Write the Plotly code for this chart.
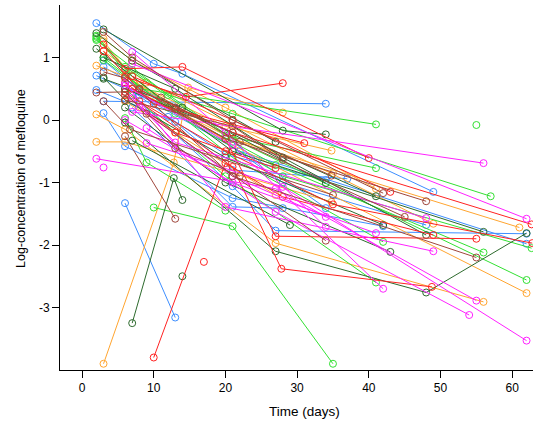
import plotly.graph_objects as go

# ---------------- data (time in days, log-concentration) ----------------
blue_times = [[2, 10, 14, 49], [3, 34], [2, 8, 22, 62], [2, 13, 21, 37], [3, 6, 21, 42],
              [6, 13], [7, 21, 27, 62], [3, 10, 21, 34], [6, 12, 20, 34], [3, 13, 28, 48],
              [7, 21, 28]]
blue_values = [[1.55, 0.9, 0.74, -1.15], [0.3, 0.26], [0.71, 0.4, -0.5, -1.98],
               [0.48, -0.03, -0.8, -0.94], [0.11, -0.42, -1.25, -1.7], [-1.33, -3.16],
               [0.4, -1.06, -1.77, -1.82], [0.95, 0.3, -0.35, -1.41], [0.55, 0.05, -0.55, -0.96],
               [0.85, 0.2, -1.0, -1.68], [0.2, -1.39, -1.41]]

orange_times = [[3, 12.8, 14.8, 28], [3, 8, 20, 34.8], [2, 6, 21, 61], [2, 6, 27, 56],
                [2, 6, 34.8], [3, 9, 49], [6, 21, 62], [3, 7, 20, 41], [6, 13, 27], [7, 21, 35]]
orange_values = [[-3.9, -0.68, 0.52, 0.12], [1.26, 0.56, -0.1, -0.49], [0.87, 0.7, -0.3, -1.72],
                 [0.09, -0.15, -1.97, -2.91], [-0.35, -0.35, -1.31], [1.1, 0.6, -1.66],
                 [0.7, -0.4, -2.77], [1.3, 0.95, 0.2, -1.1], [0.3, -0.2, -1.2], [0.5, -0.3, -0.85]]

green_times = [[2, 8, 41], [2, 6, 20, 41], [2, 12, 21, 57], [3, 12, 27, 56], [10, 21, 35],
               [55], [6, 9, 20], [2, 7, 21, 42], [3, 13, 28, 62.7], [6, 20, 41], [7, 21, 62]]
green_values = [[1.33, 0.5, -0.07], [1.3, 0.85, -0.25, -0.77], [1.28, 0.4, 0.1, -1.22],
                [0.96, 0.2, -0.72, -2.12], [-1.4, -1.7, -3.9], [-0.08], [0.03, -0.68, -1.45],
                [1.35, 0.7, -0.6, -1.95], [1.0, 0.1, -0.9, -2.05], [0.5, -0.9, -2.6],
                [0.8, -0.3, -2.56]]

darkgreen_times = [[3, 28, 34], [2, 7, 27], [2, 13, 21, 56], [3, 6, 20, 42], [3, 14, 34],
                   [7, 12.8, 14], [14], [6, 27, 48, 62], [7, 29], [6, 21, 41],
                   [3, 13, 28, 48], [6, 20, 43]]
darkgreen_values = [[1.45, -0.17, -0.23], [1.39, 0.95, -0.35], [1.14, 0.17, -0.5, -1.79],
                    [0.68, 0.32, -0.6, -1.68], [0.66, 0.2, -1.01], [-3.25, -0.93, -1.28],
                    [-2.5], [-0.04, -2.1, -2.76, -1.81], [-0.33, -1.68], [0.5, -0.2, -1.22],
                    [1.0, 0.5, -0.6, -1.84], [0.2, -1.0, -2.11]]

red_times = [[3, 6, 14, 40], [6, 14.5, 28], [10, 20, 28, 49], [17], [3, 8, 21, 62.7],
             [6, 10, 31], [7, 20, 27, 55], [6, 13, 27], [6, 21, 27.8, 48.8], [7, 21, 43],
             [8, 20, 35, 62.8]]
red_values = [[1.21, 0.82, 0.85, -0.61], [0.69, 0.37, 0.59], [-3.8, -0.69, -1.23, -1.84],
              [-2.27], [1.1, 0.48, -0.2, -1.67], [0.6, 0.26, -0.37], [0.5, -0.3, -1.86, -1.9],
              [0.4, -0.2, -0.77], [0.45, -0.75, -2.38, -2.67], [0.7, 0.0, -1.15],
              [0.3, -0.5, -1.35, -1.97]]

magenta_times = [[7, 56], [2, 27, 55], [3], [7, 62], [7, 20, 34], [6, 20, 49], [6, 21, 41],
                 [9, 27, 54], [9, 28, 62], [6, 21, 42], [7, 13, 48], [8, 21, 34]]
magenta_values = [[0.13, -0.69], [-0.62, -1.1, -2.89], [-0.76], [0.9, -1.58],
                  [1.09, -0.2, -1.71], [0.59, -1.39, -2.1], [0.0, -1.0, -1.81],
                  [-0.13, -1.47, -3.12], [-0.37, -1.07, -3.53], [0.55, -0.4, -2.7],
                  [0.35, -0.36, -1.57], [0.2, -0.9, -1.55]]

brown_times = [[3, 7, 21, 42], [3, 6, 21, 55], [2, 6, 13, 22], [3, 6.7, 35], [6, 13],
               [9, 34], [11, 22, 45], [13, 34.8], [6, 21, 28], [8, 20, 48]]
brown_values = [[1.41, 1.0, 0.0, -1.17], [0.77, 0.67, -0.9, -2.2], [0.44, 0.45, -0.45, -0.9],
                [0.3, -0.15, -1.2], [-0.26, -1.58], [0.1, -1.93], [0.36, -0.35, -1.55],
                [0.2, -0.89], [0.32, -0.1, -0.64], [0.5, -0.3, -1.3]]

x_ticks = [0, 10, 20, 30, 40, 50, 60]
x_tick_labels = ["0", "10", "20", "30", "40", "50", "60"]
y_ticks = [-3, -2, -1, 0, 1]
y_tick_labels = ["-3", "-2", "-1", "0", "1"]

# ---------------- figure ----------------
groups = [
    ("#3D8EFF", blue_times, blue_values),
    ("#FFA530", orange_times, orange_values),
    ("#33E033", green_times, green_values),
    ("#2D6A2D", darkgreen_times, darkgreen_values),
    ("#FF2222", red_times, red_values),
    ("#FF22FF", magenta_times, magenta_values),
    ("#A0473C", brown_times, brown_values),
]

fig = go.Figure()
for color, tlist, vlist in groups:
    for t, v in zip(tlist, vlist):
        fig.add_trace(go.Scatter(
            x=t, y=v, mode="lines+markers",
            line=dict(color=color, width=1),
            marker=dict(symbol="circle-open", size=7, color=color, line=dict(width=1, color=color)),
            showlegend=False, hoverinfo="skip", cliponaxis=False,
        ))

font_family = "Liberation Sans, Arial, Helvetica, sans-serif"
fig.update_layout(
    width=533, height=424,
    margin=dict(l=60, r=0, t=5, b=54, autoexpand=False),
    paper_bgcolor="white", plot_bgcolor="white",
    font=dict(family=font_family, size=12, color="black"),
    xaxis=dict(range=[-3.07, 62.9], tickvals=x_ticks, ticktext=x_tick_labels,
               showgrid=False, zeroline=False, showline=True, linecolor="black", linewidth=1,
               ticks="outside", ticklen=7, tickwidth=1, tickcolor="black",
               tickfont=dict(size=12), automargin=False),
    yaxis=dict(range=[-4.0, 1.84], tickvals=y_ticks, ticktext=y_tick_labels,
               showgrid=False, zeroline=False, showline=True, linecolor="black", linewidth=1,
               ticks="outside", ticklen=7, tickwidth=1, tickcolor="black",
               tickfont=dict(size=12), automargin=False),
    annotations=[
        dict(text="Time (days)", xref="paper", yref="paper", x=0.516, y=-0.114,
             xanchor="center", yanchor="middle", showarrow=False, font=dict(size=13.5)),
        dict(text="Log-concentration of mefloquine", xref="paper", yref="paper",
             x=-0.0825, y=0.526, xanchor="center", yanchor="middle", textangle=-90,
             showarrow=False, font=dict(size=12.5)),
    ],
)

fig.write_html(
    "out.html",
    config={"displayModeBar": False},
    post_script="document.body.style.margin='0';document.body.style.padding='0';",
)
